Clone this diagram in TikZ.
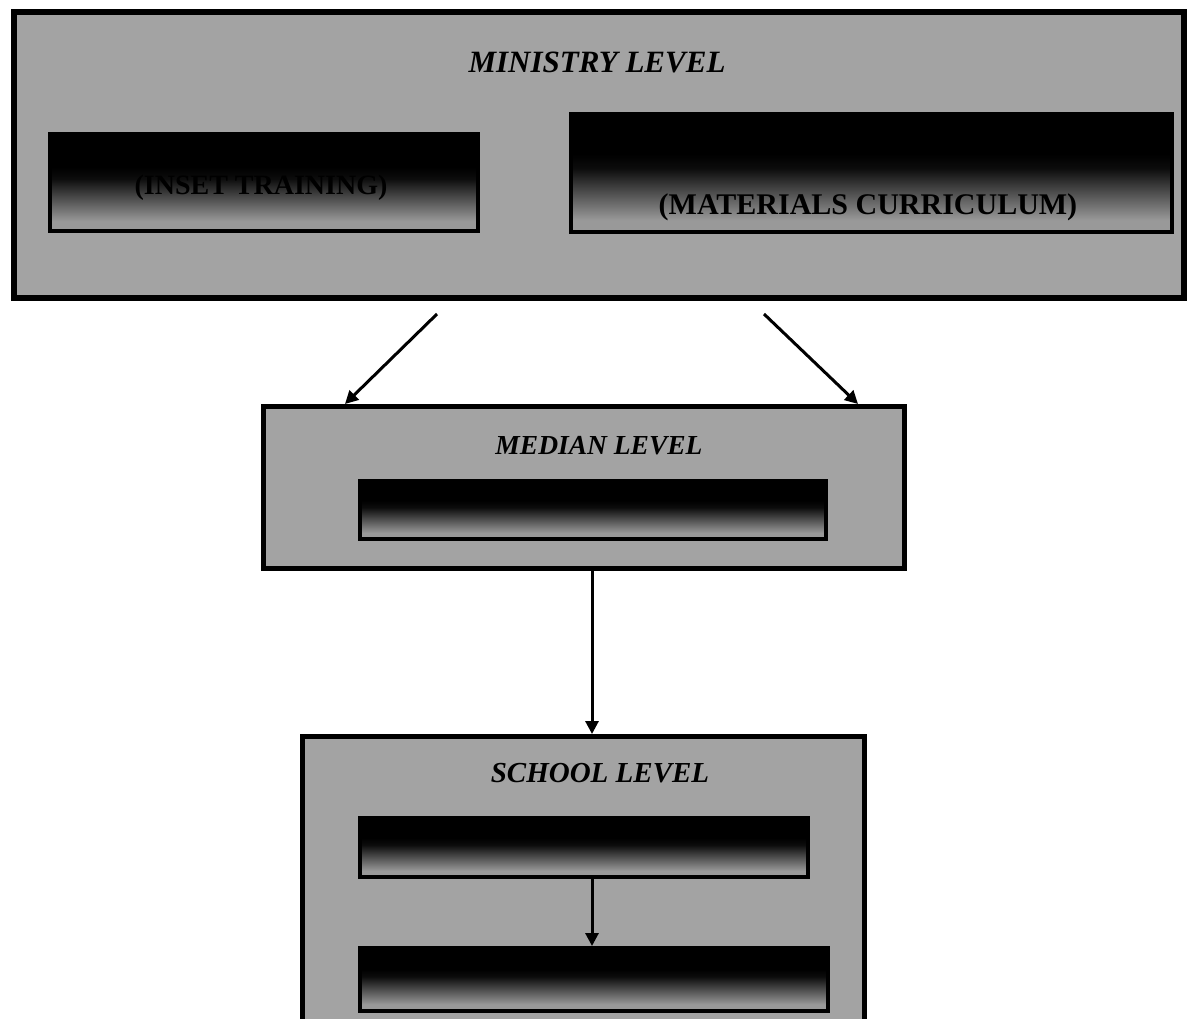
\documentclass[tikz,border=0pt]{standalone}
\usepackage{fontspec}
\setmainfont{Liberation Serif}
\usetikzlibrary{arrows.meta,calc,shadings}
\definecolor{grain}{gray}{0.64}
\definecolor{grainlow}{gray}{0.60}
% black upper part fading into grey towards the bottom
\pgfdeclareverticalshading{darktop}{100bp}{%
  color(0bp)=(grainlow); color(30bp)=(grainlow); color(52bp)=(black!92!grainlow);
  color(58bp)=(black); color(100bp)=(black)}
\tikzset{
  levelbox/.style={draw=black, fill=grain, inner sep=0pt, anchor=north west},
  darkbox/.style={draw=black, line width=4pt, inner sep=0pt, anchor=north west,
    shading=darktop},
  title/.style={font=\bfseries\itshape\fontsize{31}{34}\selectfont, text=black, inner sep=0pt},
  boxtext/.style={font=\bfseries\fontsize{29}{32}\selectfont, text=black, inner sep=0pt},
  flow/.style={line width=3pt, -{Triangle[length=13pt,width=13pt]}},
}
\begin{document}
\begin{tikzpicture}[x=1pt,y=-1pt]
\useasboundingbox (0,0) rectangle (1194,1019);
\begin{scope}
\clip (0,0) rectangle (1194,1019);

% ministry level
\node[levelbox, line width=6pt, minimum width=1170pt, minimum height=286pt] (ministry) at (11,9) {};
\node[title] (mintitle) at (597,62) {MINISTRY LEVEL};
\node[darkbox, minimum width=428pt, minimum height=97pt] (inset) at (48,132) {};
\node[boxtext, font=\bfseries\fontsize{28}{31}\selectfont] (insettext) at (261,188) {(INSET TRAINING)};
\node[darkbox, minimum width=601pt, minimum height=118pt] (materials) at (569,112) {};
\node[boxtext, font=\bfseries\fontsize{30}{33}\selectfont] (materialstext) at (868,207) {(MATERIALS CURRICULUM)};

% median level
\node[levelbox, line width=5pt, minimum width=641pt, minimum height=162pt] (median) at (261,404) {};
\node[title, font=\bfseries\itshape\fontsize{27.5}{30}\selectfont] (medtitle) at (599,446) {MEDIAN LEVEL};
\node[darkbox, line width=3.5pt, minimum width=466pt, minimum height=58pt] (medinner) at (358,479) {};

% school level
\node[levelbox, line width=5pt, minimum width=562pt, minimum height=320pt] (school) at (300,734) {};
\node[title, font=\bfseries\itshape\fontsize{29}{32}\selectfont] (schtitle) at (600,773) {SCHOOL LEVEL};
\node[darkbox, line width=3.5pt, minimum width=448pt, minimum height=59pt] (schinnerA) at (358,816) {};
\node[darkbox, line width=3.5pt, minimum width=468pt, minimum height=63pt] (schinnerB) at (358,946) {};

% connectors
\coordinate (splitL) at ($(ministry.south west)+(426,13)$);
\coordinate (splitR) at ($(ministry.south west)+(753,13)$);
\draw[flow] (splitL) -- ($(median.north west)+(84,0)$);
\draw[flow] (splitR) -- ($(median.north west)+(597,0)$);
\draw[flow] ($(median.south west)+(331,0)$) -- ($(school.north west)+(292,0)$);
\draw[flow] ($(schinnerA.south west)+(234,0)$) -- ($(schinnerB.north west)+(234,0)$);
\end{scope}
\end{tikzpicture}
\end{document}
